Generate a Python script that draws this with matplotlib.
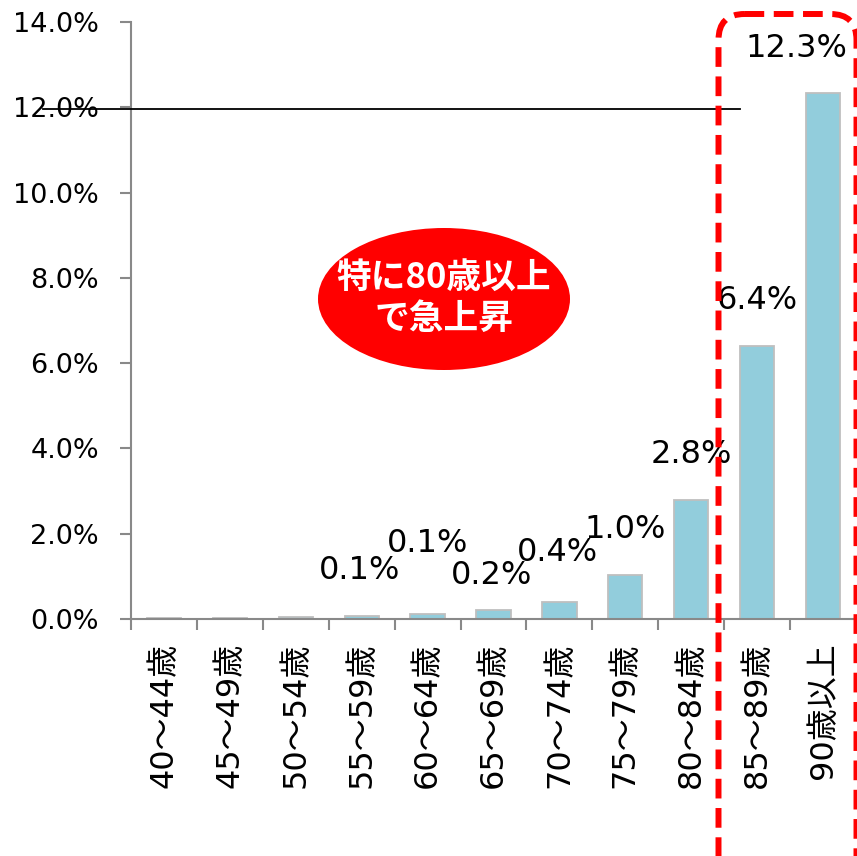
import numpy as np
import matplotlib
matplotlib.use("Agg")
import matplotlib.pyplot as plt
from matplotlib.patches import Ellipse, FancyBboxPatch

plt.rcParams['font.family'] = ['DejaVu Sans', 'Noto Sans CJK JP']

# data
ages = ['40～44歳', '45～49歳', '50～54歳', '55～59歳', '60～64歳', '65～69歳',
        '70～74歳', '75～79歳', '80～84歳', '85～89歳', '90歳以上']
rates = [0.02, 0.02, 0.04, 0.06, 0.12, 0.2, 0.4, 1.03, 2.79, 6.4, 12.33]
labels = ['', '', '', '0.1%', '0.1%', '0.2%', '0.4%', '1.0%', '2.8%', '6.4%', '12.3%']
yticks = [0, 2, 4, 6, 8, 10, 12, 14]

# where the value labels sit (hand placed in the original)
lab_y = [0, 0, 0, 1.13, 1.78, 1.03, 1.55, 2.09, 3.85, 7.48, 13.38]
lab_dx = [0, 0, 0, -0.03, 0, -0.03, -0.03, 0, 0, 0, -0.4]

fig = plt.figure(figsize=(8.57, 8.56), dpi=100)
ax = fig.add_axes([131/857, 1-619/856, 725/857, 597/856])

x = np.arange(len(ages))
ax.bar(x, rates, width=0.52, color='#92CDDC', edgecolor='#BFBFBF', linewidth=1.3, zorder=2)

for i in range(len(ages)):
    if labels[i]:
        ax.text(x[i] + lab_dx[i], lab_y[i], labels[i], ha='center', va='center',
                fontsize=23, color='black', family=['DejaVu Sans'])

ax.set_xlim(-0.5, len(ages) - 0.5)
ax.set_ylim(0, 14)
ax.set_yticks(yticks)
ax.set_yticklabels(['%.1f%%' % v for v in yticks], fontsize=19.5)

# ticks between categories, labels at centres
ax.set_xticks(np.arange(-0.5, len(ages), 1))
ax.set_xticklabels([])
ax.set_xticks(x, minor=True)
ax.set_xticklabels(ages, minor=True, rotation=90, fontsize=23, va='top')
ax.tick_params(axis='x', which='minor', length=0, pad=17)
ax.tick_params(axis='both', which='major', length=8, width=1.5, color='#898989', direction='out')
ax.tick_params(axis='y', pad=15)

for s in ['top', 'right']:
    ax.spines[s].set_visible(False)
for s in ['left', 'bottom']:
    ax.spines[s].set_color('#898989')
    ax.spines[s].set_linewidth(1.5)

# black reference line near 12%
ax.axhline(11.95, xmin=-88/725, xmax=609/725, color='black', lw=1.3, clip_on=False, zorder=3)

# overlay in pixel coordinates for the callout shapes
ov = fig.add_axes([0, 0, 1, 1])
ov.set_xlim(0, 857)
ov.set_ylim(856, 0)
ov.axis('off')
ov.patch.set_visible(False)

ov.add_patch(Ellipse((444, 299), 252, 142, facecolor='#FF0000', edgecolor='none'))
ov.text(444, 298, '特に80歳以上\nで急上昇', ha='center', va='center',
        color='white', fontsize=25, fontweight='bold', linespacing=1.2,
        family=['Noto Sans CJK JP'])

# dashed rounded box around the last two bars
ov.add_patch(FancyBboxPatch((718.5, 14), 138, 870,
                            boxstyle='round,pad=0,rounding_size=26',
                            facecolor='none', edgecolor='#FF0000',
                            lw=4.3, linestyle=(0, (3.3, 1.6)), clip_on=False))

fig.savefig('out.png', dpi=100)
